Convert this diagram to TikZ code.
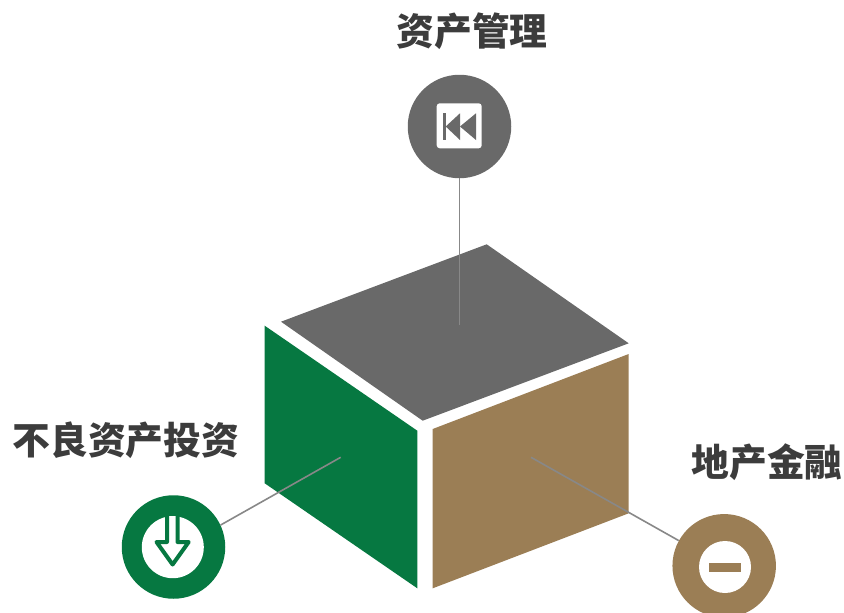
\documentclass[tikz,border=0pt]{standalone}
\usepackage{fontspec}
\newfontfamily\cjk{Noto Sans CJK SC}
\usepackage{tikz}
\usetikzlibrary{positioning}
\definecolor{cubegray}{RGB}{105,105,105}
\definecolor{cubegreen}{RGB}{6,120,65}
\definecolor{cubebrown}{RGB}{155,126,85}
\definecolor{labeltext}{RGB}{60,60,60}
\definecolor{leadgray}{RGB}{136,136,136}
\tikzstyle{face} = [draw=none]
\tikzstyle{badge} = [circle, minimum size=103.5pt, inner sep=0pt, draw=none]
\tikzstyle{leader} = [line width=1.6pt, color=leadgray]
\tikzstyle{title} = [font=\cjk\bfseries\fontsize{37.8}{38}\selectfont, text=labeltext, inner sep=0pt]

\begin{document}
\begin{tikzpicture}[x=1pt, y=-1pt]
\clip (0,0) rectangle (844,613);

% Cube faces
\fill[face, cubegray] (281,321.7) -- (486.7,244.3) -- (628.7,343.3) -- (422.7,420.7) -- cycle;
\fill[face, cubegreen] (264.7,325.7) -- (417.3,430.7) -- (417.3,588.3) -- (264.7,483.3) -- cycle;
\fill[face, cubebrown] (432.7,429) -- (628.7,354) -- (628.7,513.3) -- (432.7,588.3) -- cycle;

% Free ends of the leaders
\coordinate (mgmtend) at (459.5,325);
\coordinate (distressend) at (340.7,457.3);
\coordinate (estateend) at (531,457.3);

% Badges
\node[badge, fill=cubegray] (mgmt) at (459.5,126.5) {};
\node[badge, fill=cubegreen] (distress) at (173.5,547) {};
\node[badge, fill=cubebrown] (estate) at (724.2,565.8) {};

% Leaders
\draw[leader] (mgmt.south) -- (mgmtend);
\draw[leader] (distress.25.5) -- (distressend);
\draw[leader] (estate.151.6) -- (estateend);

% Rewind icon
\fill[white, rounded corners=3pt] (436.7,103.3) rectangle (481.7,148.3);
\fill[cubegray] (442.7,113.3) rectangle (445.7,140);
\fill[cubegray] (445.7,126.5) -- (460,113.3) -- (460,140) -- cycle;
\fill[cubegray] (460,126.5) -- (476,113.3) -- (476,140) -- cycle;

% Down arrow icon
\fill[white] (172.8,547.2) circle (31);
\draw[cubegreen, line width=4pt, line join=round, fill=white] (167,516) -- (167,542) -- (156.5,542) -- (172.6,564.5) -- (188.7,542) -- (177.5,542) -- (177.5,516);

% Minus icon
\fill[white] (725,567) circle (26);
\fill[cubebrown] (709,562.7) rectangle (741,571.7);

% Labels
\node[title] (mgmtlabel) at (472,31) {资产管理};
\node[title] (distresslabel) at (126,440) {不良资产投资};
\node[title] (estatelabel) at (767,462) {地产金融};
\end{tikzpicture}
\end{document}
